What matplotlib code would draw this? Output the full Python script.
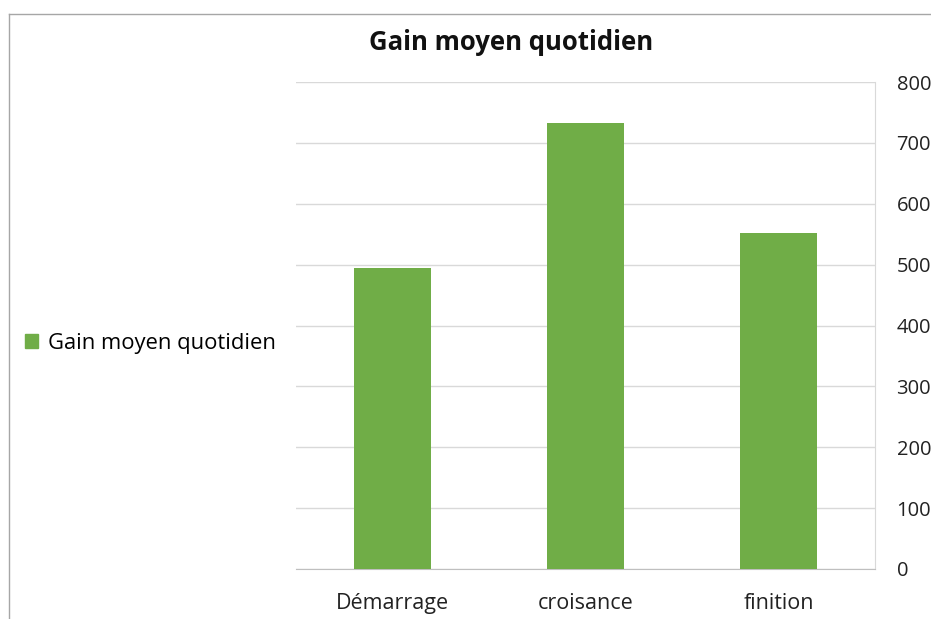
import matplotlib
matplotlib.use("Agg")
import matplotlib.pyplot as plt
from matplotlib.lines import Line2D
from matplotlib.patches import Patch

categories = ["Démarrage", "croisance", "finition"]
values = [495, 733, 552]
series_name = "Gain moyen quotidien"
yticks = [0, 100, 200, 300, 400, 500, 600, 700, 800]

plt.rcParams['font.family'] = ['Open Sans', 'DejaVu Sans']

W, H = 931, 619
fig = plt.figure(figsize=(W/100, H/100), dpi=100)
ax = fig.add_axes([296/W, 1-569/H, (875-296)/W, (569-82)/H])

green = "#70AD47"
x = list(range(len(categories)))
ax.bar(x, values, width=0.4, color=green, zorder=3)
ax.set_xlim(-0.5, len(categories)-0.5)
ax.set_ylim(0, 800)
ax.set_yticks(yticks)
ax.yaxis.tick_right()
ax.tick_params(axis='y', length=0, pad=15.5, labelsize=14.5, colors="#222222")
ax.tick_params(axis='x', length=0, pad=17, labelsize=15.5, colors="#222222")
ax.set_xticks(x)
ax.set_xticklabels(categories)
ax.grid(axis='y', color="#D9D9D9", linewidth=1, zorder=0)
for s in ['top', 'left']:
    ax.spines[s].set_visible(False)
ax.spines['right'].set_color("#D9D9D9")
ax.spines['bottom'].set_color("#BFBFBF")
ax.set_axisbelow(True)

fig.text(511/W, 1-43/H, "Gain moyen quotidien", ha='center', va='center',
         fontsize=18.5, fontweight='bold', color="#111111")

# legend
fig.legend(handles=[Patch(color=green, label=series_name)],
           loc='center left', bbox_to_anchor=(25/W, 1-343/H), frameon=False,
           fontsize=15.8, handlelength=0.6, handleheight=0.6, handletextpad=0.45,
           borderaxespad=0, borderpad=0)

# chart border (partially visible)
fig.add_artist(Line2D([8.5/W, 1], [1-13.5/H, 1-13.5/H], color="#A6A6A6", lw=1, transform=fig.transFigure))
fig.add_artist(Line2D([8.5/W, 8.5/W], [0, 1-13.5/H], color="#A6A6A6", lw=1, transform=fig.transFigure))

fig.savefig("out.png", dpi=100)
